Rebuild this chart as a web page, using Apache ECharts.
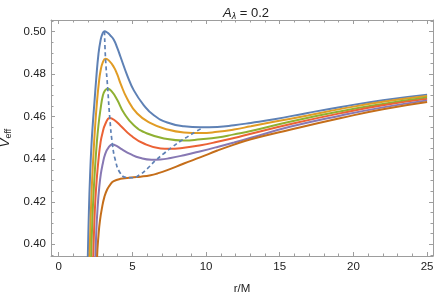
<!DOCTYPE html>
<html><head><meta charset="utf-8">
<script src="https://cdn.jsdelivr.net/npm/echarts@6/dist/echarts.min.js"></script>
<style>html,body{margin:0;padding:0;background:#fff}#c{width:436px;height:300px}</style>
</head><body><div id="c"></div>
<script>
// ---- data (r/M, V_eff) ----
const curve1 = [[1.93,0.378],[1.98,0.3945],[2.05,0.415],[2.13,0.432],[2.22,0.446],[2.32,0.457],[2.43,0.467],[2.55,0.478],[2.7,0.4895],[2.84,0.4958],[2.97,0.4990],[3.11,0.5002],[3.3,0.4996],[3.5,0.4983],[3.74,0.4962],[3.97,0.4925],[4.2,0.4881],[4.65,0.4795],[5.1,0.4724],[5.78,0.4654],[6.46,0.4607],[7.37,0.4573],[8.5,0.4555],[9.64,0.4550],[10.77,0.4552],[11.9,0.4560],[13.04,0.4571],[14.63,0.4588],[16.9,0.4618],[19.16,0.4646],[22,0.4678],[25,0.4704]];
const curve2 = [[2.05,0.378],[2.1,0.3945],[2.17,0.412],[2.25,0.427],[2.35,0.441],[2.47,0.455],[2.6,0.467],[2.72,0.4755],[2.84,0.4815],[3.0,0.4857],[3.18,0.4873],[3.4,0.4865],[3.74,0.4834],[3.97,0.4800],[4.2,0.4756],[4.65,0.4685],[5.33,0.4615],[6.24,0.4570],[7.37,0.4540],[8.5,0.4526],[9.64,0.4523],[10.77,0.4529],[11.9,0.4540],[13.04,0.4555],[14.6,0.4576],[16.9,0.4606],[19.16,0.4637],[22,0.4670],[25,0.4697]];
const curve3 = [[2.16,0.378],[2.21,0.3945],[2.28,0.41],[2.36,0.423],[2.46,0.435],[2.58,0.447],[2.7,0.456],[2.84,0.4635],[3.0,0.4700],[3.15,0.4724],[3.33,0.4732],[3.6,0.4719],[3.97,0.4680],[4.42,0.4619],[5.1,0.4560],[6.01,0.4521],[7.37,0.4495],[8.5,0.4488],[9.64,0.4494],[10.77,0.4502],[11.9,0.4517],[13.04,0.4533],[15.76,0.4578],[19.16,0.4626],[22,0.4660],[25,0.4690]];
const curve4 = [[2.3,0.378],[2.35,0.3945],[2.42,0.41],[2.5,0.422],[2.6,0.432],[2.72,0.441],[2.84,0.4478],[2.95,0.4517],[3.18,0.4568],[3.47,0.4594],[3.75,0.4586],[4.2,0.4558],[4.88,0.4513],[5.78,0.4474],[6.92,0.4451],[7.5,0.4449],[8.5,0.4454],[9.64,0.4466],[10.77,0.4482],[11.9,0.4500],[13.04,0.4520],[15.76,0.4566],[19.16,0.4617],[22,0.4654],[25,0.4684]];
const curve5 = [[2.45,0.378],[2.5,0.3945],[2.56,0.407],[2.65,0.418],[2.75,0.4265],[2.86,0.433],[2.98,0.4375],[3.15,0.4423],[3.4,0.4457],[3.65,0.4469],[3.9,0.4464],[4.3,0.4446],[4.88,0.4424],[5.5,0.4407],[6.3,0.4398],[6.9,0.4399],[7.6,0.4406],[8.5,0.4419],[9.64,0.4438],[10.77,0.4458],[11.9,0.4479],[13.04,0.4501],[15.76,0.4554],[19.16,0.4606],[22,0.4644],[25,0.4677]];
const curve6 = [[2.56,0.378],[2.61,0.3945],[2.7,0.404],[2.8,0.411],[2.95,0.4175],[3.1,0.4222],[3.29,0.4258],[3.52,0.4283],[3.74,0.4297],[4.2,0.4308],[4.65,0.4312],[5.1,0.4315],[5.56,0.4318],[6.24,0.4325],[6.69,0.4333],[7.37,0.4349],[8.5,0.4380],[9.64,0.4410],[10.77,0.4441],[11.9,0.4469],[13.04,0.4494],[15.76,0.4540],[19.16,0.4594],[22,0.4635],[25,0.4669]];
const extremaLocus = [[3.11,0.5002],[3.18,0.4873],[3.33,0.4732],[3.47,0.4594],[3.65,0.4469],[3.85,0.4395],[4.15,0.4338],[4.55,0.4315],[5.0,0.4313],[5.5,0.4327],[6.0,0.4355],[6.6,0.4396],[7.14,0.4427],[7.71,0.4458],[8.28,0.4486],[8.84,0.4510],[9.3,0.4530],[9.8,0.4549]];

const xMajor = [0, 5, 10, 15, 20, 25];
const xMinor = [1,2,3,4,6,7,8,9,11,12,13,14,16,17,18,19,21,22,23,24];
const yMajor = [0.40, 0.42, 0.44, 0.46, 0.48, 0.50];
const yMinor = [0.395,0.405,0.41,0.415,0.425,0.43,0.435,0.445,0.45,0.455,0.465,0.47,0.475,0.485,0.49,0.495,0.505];

const curves = [curve1, curve2, curve3, curve4, curve5, curve6];
const colors = ['#5E81B5','#E19C24','#8FB032','#EB6235','#8778B3','#C56E1A'];

const X_MIN = -0.52, X_MAX = 25.4, Y_MIN = 0.3945, Y_MAX = 0.5055;
const FONT = '"Liberation Sans", Arial, sans-serif';
const AX = '#9d9d9d';

function xAx(pos, vals, len, showLine, withLabels) {
  const a = {
    type: 'value', position: pos, min: X_MIN, max: X_MAX,
    axisLine: { show: showLine, onZero: false, lineStyle: { color: AX, width: 1 } },
    axisTick: { show: true, inside: true, length: len, customValues: vals, lineStyle: { color: AX, width: 1 } },
    axisLabel: { show: withLabels, customValues: vals, margin: 5, color: '#222', fontSize: 11.5, fontFamily: FONT },
    splitLine: { show: false }
  };
  if (withLabels) {
    a.name = 'r/M'; a.nameLocation = 'middle'; a.nameGap = 27;
    a.nameTextStyle = { color: '#222', fontSize: 11.5, fontFamily: FONT };
  }
  return a;
}
function yAx(pos, vals, len, showLine, withLabels) {
  const a = {
    type: 'value', position: pos, min: Y_MIN, max: Y_MAX,
    axisLine: { show: showLine, onZero: false, lineStyle: { color: AX, width: 1 } },
    axisTick: { show: true, inside: true, length: len, customValues: vals, lineStyle: { color: AX, width: 1 } },
    axisLabel: { show: withLabels, customValues: vals, margin: 5, color: '#222', fontSize: 11.5, fontFamily: FONT,
                 formatter: v => v.toFixed(2) },
    splitLine: { show: false }
  };
  if (withLabels) {
    a.name = '{v|V}{s|eff}'; a.nameLocation = 'middle'; a.nameGap = 35; a.nameRotate = 90;
    a.nameTextStyle = { color: '#222', fontSize: 13, fontFamily: FONT,
      rich: { v: { fontStyle: 'italic', fontSize: 13, fontFamily: FONT, color: '#222' },
              s: { fontSize: 9, fontFamily: FONT, color: '#222', padding: [6, 0, 0, 0] } } };
  }
  return a;
}

const series = curves.map((c, i) => ({
  type: 'line', data: c, xAxisIndex: 0, yAxisIndex: 0,
  showSymbol: false, smooth: 0.5, clip: true,
  lineStyle: { color: colors[i], width: 2 }, itemStyle: { color: colors[i] }, z: 2 + i
}));
series.push({
  type: 'line', data: extremaLocus, xAxisIndex: 0, yAxisIndex: 0,
  showSymbol: false, smooth: 0.5, clip: true,
  lineStyle: { color: '#5E81B5', width: 1.7, type: [4, 3] }, z: 10
});

const chart = echarts.init(document.getElementById('c'), null, { renderer: 'canvas' });
chart.setOption({
  animation: false,
  backgroundColor: '#fff',
  title: {
    text: '{a|A}{s|λ}{n| = 0.2}', left: 241, top: 1, textAlign: 'center',
    textStyle: { fontSize: 13, fontWeight: 'normal', color: '#222', fontFamily: FONT,
      rich: { a: { fontStyle: 'italic', fontSize: 13, fontFamily: FONT, color: '#222' },
              s: { fontStyle: 'italic', fontSize: 9, fontFamily: FONT, color: '#222', padding: [6, 0, 0, 0] },
              n: { fontSize: 13, fontFamily: FONT, color: '#222' } } }
  },
  grid: { left: 51, right: 3, top: 20, bottom: 44, containLabel: false, outerBoundsMode: 'none' },
  xAxis: [
    xAx('bottom', xMajor, 4, true, true),
    xAx('top', xMajor, 4, true, false),
    xAx('bottom', xMinor, 2.5, false, false),
    xAx('top', xMinor, 2.5, false, false)
  ],
  yAxis: [
    yAx('left', yMajor, 4, true, true),
    yAx('right', yMajor, 4, true, false),
    yAx('left', yMinor, 2.5, false, false),
    yAx('right', yMinor, 2.5, false, false)
  ],
  series: series
});
</script>
</body></html>
